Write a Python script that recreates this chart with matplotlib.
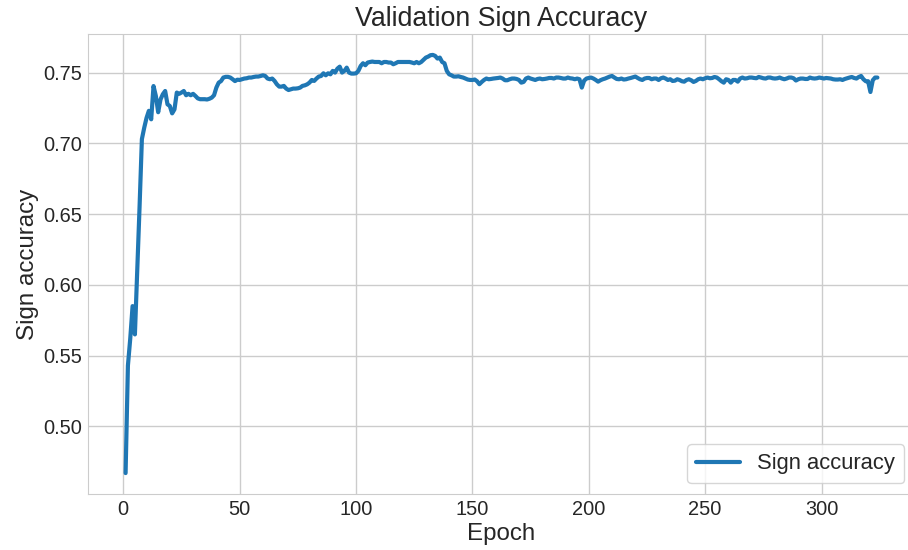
import numpy as np
import matplotlib
matplotlib.use("Agg")
import matplotlib.pyplot as plt
import seaborn as sns

# validation sign accuracy per epoch
warmup_acc = [
    0.467, 0.543, 0.562, 0.585, 0.565, 0.610, 0.655, 0.703, 0.711, 0.718,
    0.723, 0.717, 0.7405, 0.7335, 0.722, 0.731, 0.7347, 0.737, 0.7276, 0.7264,
    0.7212, 0.724, 0.7359, 0.735, 0.7359, 0.737, 0.734, 0.735, 0.734, 0.735,
    0.7335, 0.7318, 0.7312, 0.7312, 0.7312, 0.731, 0.7315, 0.7323, 0.734, 0.7394,
    0.7429, 0.744, 0.7465, 0.747, 0.747, 0.7465, 0.7453, 0.744, 0.745, 0.7448,
]
mid_acc = [
    0.7453, 0.7458, 0.7460, 0.7465, 0.7465, 0.7469, 0.7472, 0.7472, 0.7476, 0.7481,
    0.7476, 0.7458, 0.7453, 0.7458, 0.7441, 0.7417, 0.7401, 0.7401, 0.7406, 0.7387,
    0.7377, 0.7382, 0.7387, 0.7387, 0.7389, 0.7394, 0.7406, 0.7410, 0.7417, 0.7429,
    0.7448, 0.7441, 0.7458, 0.7472, 0.7476, 0.7495, 0.7481, 0.7495, 0.7488, 0.7512,
    0.7500, 0.7528, 0.7542, 0.7500, 0.7512, 0.7535, 0.7500, 0.7493, 0.7493, 0.7495,
    0.7512, 0.7547, 0.7566, 0.7552, 0.7571, 0.7575, 0.7578, 0.7575, 0.7575, 0.7575,
    0.7566, 0.7575, 0.7575, 0.7571, 0.7571, 0.7559, 0.7566, 0.7575, 0.7575, 0.7575,
    0.7575, 0.7575, 0.7575, 0.7571, 0.7566, 0.7575, 0.7566, 0.7575, 0.7590, 0.7606,
    0.7613, 0.7623, 0.7625, 0.7618, 0.7599, 0.7606, 0.7575, 0.7566, 0.7512, 0.7488,
    0.7481, 0.7472, 0.7472,
]
plateau_acc = [
    0.7474, 0.7469, 0.7465, 0.7458, 0.7451, 0.7448, 0.7448, 0.7451, 0.7439, 0.7418,
    0.7434, 0.7448, 0.7458, 0.7453, 0.7455, 0.7458, 0.7460, 0.7462, 0.7465, 0.7458,
    0.7446, 0.7446, 0.7453, 0.7458, 0.7458, 0.7455, 0.7448, 0.7429, 0.7434, 0.7458,
    0.7465, 0.7458, 0.7453, 0.7448, 0.7455, 0.7458, 0.7453, 0.7455, 0.7458, 0.7462,
    0.7462, 0.7458, 0.7465, 0.7465, 0.7462, 0.7458, 0.7458, 0.7465, 0.7460, 0.7458,
    0.7453, 0.7458, 0.7453, 0.7394, 0.7443, 0.7458, 0.7462, 0.7465, 0.7458, 0.7448,
    0.7436, 0.7446, 0.7453, 0.7458, 0.7465, 0.7472, 0.7476, 0.7465, 0.7455, 0.7453,
    0.7458, 0.7451, 0.7453, 0.7458, 0.7462, 0.7467, 0.7472, 0.7462, 0.7453, 0.7448,
    0.7458, 0.7462, 0.7462, 0.7453, 0.7458, 0.7458, 0.7448, 0.7460, 0.7465, 0.7458,
    0.7448, 0.7453, 0.7441, 0.7443, 0.7453, 0.7448, 0.7439, 0.7436, 0.7448, 0.7453,
    0.7446, 0.7434, 0.7441, 0.7453, 0.7458, 0.7453, 0.7460, 0.7465, 0.7460, 0.7462,
    0.7469, 0.7465, 0.7453, 0.7439, 0.7429, 0.7453, 0.7448, 0.7429, 0.7448, 0.7448,
    0.7436, 0.7458, 0.7465, 0.7458, 0.7460, 0.7465, 0.7465, 0.7462, 0.7460, 0.7469,
    0.7465, 0.7460, 0.7458, 0.7465, 0.7465, 0.7460, 0.7458, 0.7460, 0.7465, 0.7458,
    0.7453, 0.7458, 0.7465, 0.7465, 0.7460, 0.7444, 0.7453, 0.7458, 0.7458, 0.7455,
    0.7455, 0.7465, 0.7460, 0.7458, 0.7460, 0.7465, 0.7462, 0.7458, 0.7462, 0.7460,
    0.7458, 0.7453, 0.7451, 0.7451, 0.7453, 0.7448, 0.7455, 0.7460, 0.7465, 0.7469,
    0.7462, 0.7458, 0.7469, 0.7476, 0.7453, 0.7439, 0.7439, 0.7363, 0.7446, 0.7465,
    0.7465,
]

acc = warmup_acc + mid_acc + plateau_acc
epochs = np.arange(1, len(acc) + 1)

sns.set_style("whitegrid")
plt.rcParams["font.family"] = ["Liberation Sans", "DejaVu Sans"]
plt.rcParams["grid.linewidth"] = 1.0

fig = plt.figure(figsize=(9.08, 5.5), dpi=100)
ax = fig.add_axes([88 / 908, 56 / 550, 827 / 908, 460 / 550])

ax.plot(epochs, acc, color="#1f77b4", linewidth=3, label="Sign accuracy")

ax.set_title("Validation Sign Accuracy", fontsize=19.3)
ax.set_xlabel("Epoch", fontsize=17.4, labelpad=3)
ax.set_ylabel("Sign accuracy", fontsize=17.4, labelpad=3)
ax.tick_params(labelsize=14.4, length=0, pad=4.3)
ax.legend(loc="lower right", fontsize=15.8, frameon=True)

fig.savefig("out.png", dpi=100)
